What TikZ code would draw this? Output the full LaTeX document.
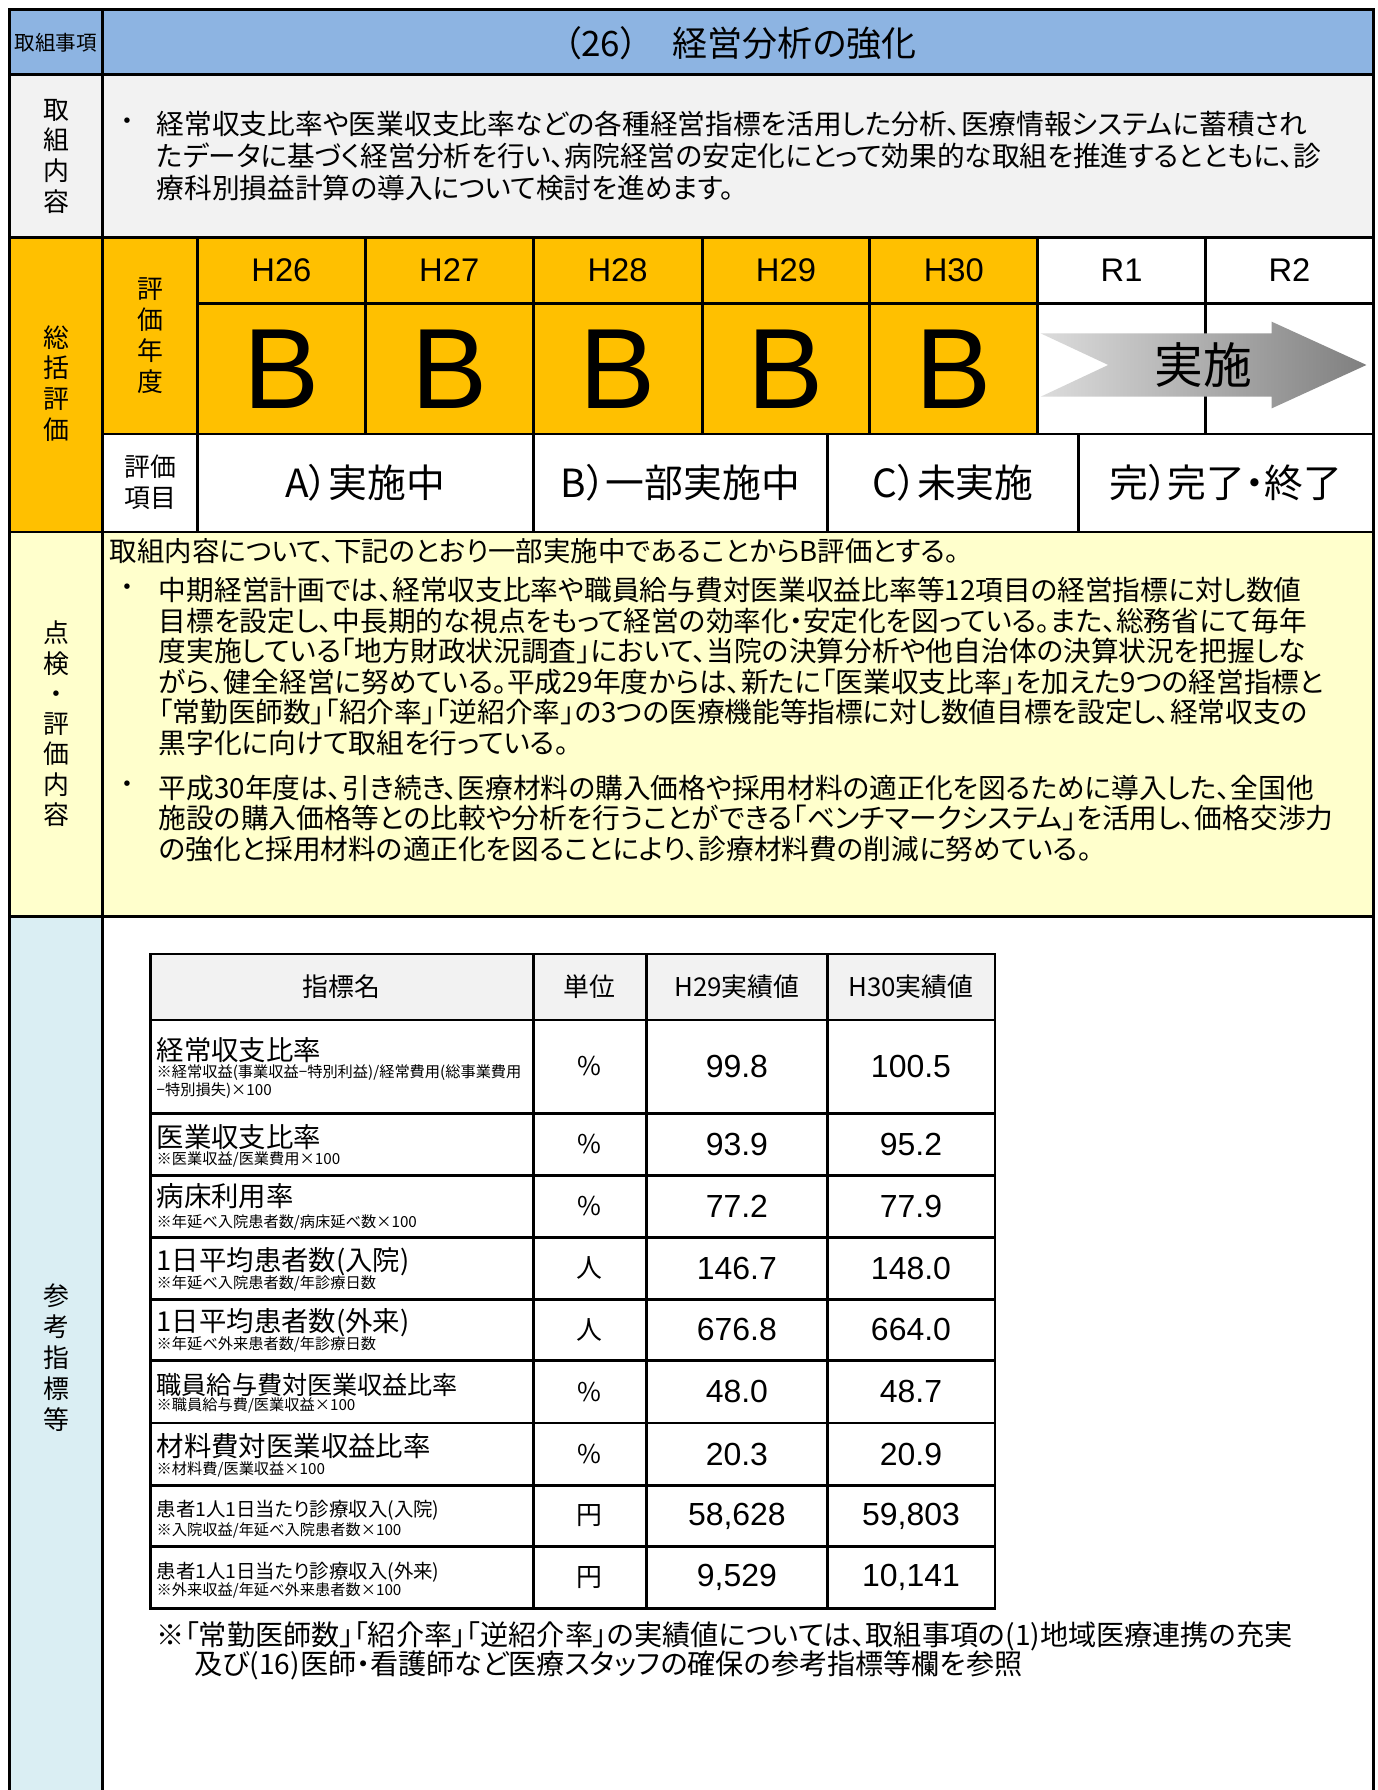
\documentclass[tikz,border=0pt]{standalone}
\usepackage{fontspec}
\setmainfont{Noto Sans CJK JP}[RawFeature=+palt]
\newfontfamily\arialfont{Liberation Sans}
\definecolor{titleBlue}{HTML}{8DB4E2}
\definecolor{paleGray}{HTML}{F2F2F2}
\definecolor{evalOrange}{HTML}{FFC000}
\definecolor{checkYellow}{HTML}{FFFFCC}
\definecolor{refBlue}{HTML}{DAEEF3}
\definecolor{arrowLight}{HTML}{DCDCDC}
\definecolor{arrowDark}{HTML}{7F7F7F}
\tikzset{
  rule/.style={line width=1.9pt, line cap=rect},
  txt/.style={inner sep=0pt, font=\fontsize{17}{20}\selectfont},
  textline/.style={txt, anchor=west, font=\fontsize{18.2}{20}\selectfont},
  vlabel/.style={inner sep=0pt, align=center, font=\fontsize{17}{20.3}\selectfont},
  yearlbl/.style={inner sep=0pt, font=\arialfont\fontsize{21.5}{24}\selectfont},
  grade/.style={inner sep=0pt, font=\arialfont\fontsize{75}{80}\selectfont},
  itemlbl/.style={inner sep=0pt, font=\fontsize{25.5}{28}\selectfont},
  num/.style={inner sep=0pt, font=\arialfont\fontsize{21}{24}\selectfont}
}
\begin{document}
\begin{tikzpicture}[x=0.75pt, y=-0.75pt]
    \useasboundingbox (0,0) rectangle (1207,1568);
    \fill[white] (0,0) rectangle (1207,1568);
    % Row backgrounds
    \fill[titleBlue] (8,8) rectangle (1203,65.5);
    \fill[paleGray] (8,65.5) rectangle (1203,208);
    \fill[evalOrange] (8,208) rectangle (909,380.2);
    \fill[evalOrange] (8,380.2) rectangle (90,466);
    \fill[checkYellow] (8,466) rectangle (1203,803);
    \fill[refBlue] (8,803) rectangle (90,1568);
    % Frame and main rules
    \draw[rule] (8,1568) -- (8,8) -- (1203,8) -- (1203,1568);
    \draw[rule] (90,8) -- (90,1568);
    \foreach \y in {65.5,208,466,803} \draw[rule] (8,\y) -- (1203,\y);
    % Evaluation grid
    \draw[rule] (173,208) -- (173,466);
    \draw[rule] (173,265.7) -- (1203,265.7);
    \draw[rule] (90,380.2) -- (1203,380.2);
    \foreach \x in {320,467,615,762,909,1056} \draw[rule] (\x,208) -- (\x,380.2);
    \foreach \x in {467,725,945} \draw[rule] (\x,380.2) -- (\x,466);
    % Title row
    \node[inner sep=0pt, font=\fontsize{13.5}{15}\selectfont] (tagHead) at (49,37.5) {取組事項};
    \node[inner sep=0pt, font=\fontsize{23}{26}\selectfont] (title) at (648.5,37.5) {（26）　経営分析の強化};
    % Left labels
    \node[vlabel] (lblNaiyo) at (49,137) {取\\組\\内\\容};
    \node[vlabel] (lblSokatsu) at (49,336) {総\\括\\評\\価};
    \node[vlabel] (lblNendo) at (131.5,294) {評\\価\\年\\度};
    \node[vlabel] (lblKomoku) at (131.5,422.3) {評価\\項目};
    \node[vlabel, font=\fontsize{17}{19.9}\selectfont] (lblTenken) at (49,634) {点\\検\\・\\評\\価\\内\\容};
    \node[vlabel] (lblSanko) at (49,1189) {参\\考\\指\\標\\等};
    % Contents text
    \node[txt] (dotNaiyo) at (112,108.6) {・};
    \foreach \ln [count=\i] in {%
        経常収支比率や医業収支比率などの各種経営指標を活用した分析、医療情報システムに蓄積され,
        たデータに基づく経営分析を行い、病院経営の安定化にとって効果的な取組を推進するとともに、診,
        療科別損益計算の導入について検討を進めます。}
        \node[textline] (naiyo\i) at (137,{108.6+27.9*(\i-1)}) {\ln};
    % Years and grades
    \foreach \yr/\cx in {H26/246.5,H27/393.5,H28/541,H29/688.5,H30/835.5,R1/982.5,R2/1129.5}
        \node[yearlbl] (yr\yr) at (\cx,236.8) {\yr};
    \foreach \cx [count=\i] in {246.5,393.5,541,688.5,835.5}
        \node[grade] (grade\i) at (\cx,323) {B};
    \shade[left color=arrowLight, right color=arrowDark] (911.6,292) -- (1114,292) -- (1114,281.8)
        -- (1197,319.7) -- (1114,357.7) -- (1114,347.5) -- (911.6,347.5) -- (970.8,319.7) -- cycle;
    \node[inner sep=0pt, font=\fontsize{32}{34}\selectfont] (jisshi) at (1054,320) {実施};
    \foreach \it/\cx [count=\i] in {A）実施中/320,B）一部実施中/596,C）未実施/835,完）完了・終了/1074}
        \node[itemlbl] (item\i) at (\cx,422.5) {\it};
    % Check text
    \node[textline, font=\fontsize{18}{20}\selectfont] (lead) at (96,483) {取組内容について、下記のとおり一部実施中であることからB評価とする。};
    \node[txt] (dotA) at (112,517) {・};
    \foreach \ln [count=\i] in {%
        中期経営計画では、経常収支比率や職員給与費対医業収益比率等12項目の経営指標に対し数値,
        目標を設定し、中長期的な視点をもって経営の効率化・安定化を図っている。また、総務省にて毎年,
        度実施している「地方財政状況調査」において、当院の決算分析や他自治体の決算状況を把握しな,
        がら、健全経営に努めている。平成29年度からは、新たに「医業収支比率」を加えた9つの経営指標と,
        「常勤医師数」「紹介率」「逆紹介率」の3つの医療機能等指標に対し数値目標を設定し、経常収支の,
        黒字化に向けて取組を行っている。}
        \node[textline] (chkA\i) at (139,{517+26.7*(\i-1)}) {\ln};
    \node[txt] (dotB) at (112,690) {・};
    \foreach \ln [count=\i] in {%
        平成30年度は、引き続き、医療材料の購入価格や採用材料の適正化を図るために導入した、全国他,
        施設の購入価格等との比較や分析を行うことができる「ベンチマークシステム」を活用し、価格交渉力,
        の強化と採用材料の適正化を図ることにより、診療材料費の削減に努めている。}
        \node[textline] (chkB\i) at (139,{690+26.7*(\i-1)}) {\ln};
    % Indicator table
    \fill[paleGray] (131.5,835.7) rectangle (871.6,893.5);
    \draw[rule] (131.5,835.7) rectangle (871.6,1409);
    \foreach \y in {893.5,975,1029.5,1084,1138,1192,1246.5,1301,1355} \draw[rule] (131.5,\y) -- (871.6,\y);
    \foreach \x in {467,566.5,724.5} \draw[rule] (\x,835.7) -- (\x,1409);
    \foreach \hd/\cx [count=\i] in {指標名/299,単位/516.7,H29実績値/645.5,H30実績値/798}
        \node[txt] (head\i) at (\cx,864.6) {\hd};
    \foreach \fs/\nm/\nt/\un/\va/\vb/\yn/\yt/\yc [count=\i] in {%
        18/経常収支比率/{※経常収益(事業収益−特別利益)/経常費用(総事業費用\\−特別損失)×100}/\%/99.8/100.5/920/947.5/934.2,
        18/医業収支比率/{※医業収益/医業費用×100}/\%/93.9/95.2/996/1016/1002.2,
        18/病床利用率/{※年延べ入院患者数/病床延べ数×100}/\%/77.2/77.9/1048/1071/1056.7,
        18/1日平均患者数(入院)/{※年延べ入院患者数/年診療日数}/人/146.7/148.0/1105/1124/1111,
        18/1日平均患者数(外来)/{※年延べ外来患者数/年診療日数}/人/676.8/664.0/1159/1178/1165,
        16.5/職員給与費対医業収益比率/{※職員給与費/医業収益×100}/\%/48.0/48.7/1213/1231/1219.2,
        18/材料費対医業収益比率/{※材料費/医業収益×100}/\%/20.3/20.9/1267/1287/1273.7,
        12.75/患者1人1日当たり診療収入(入院)/{※入院収益/年延べ入院患者数×100}/円/{58,628}/{59,803}/1323/1341/1328,
        12.75/患者1人1日当たり診療収入(外来)/{※外来収益/年延べ外来患者数×100}/円/{9,529}/{10,141}/1377/1393.5/1382}
    {
        \node[textline, font=\fontsize{\fs}{\fs}\selectfont] (name\i) at (137,\yn) {\nm};
        \node[textline, align=left, font=\fontsize{10}{11.3}\selectfont] (note\i) at (137,\yt) {\nt};
        \node[txt] (unit\i) at (516.7,\yc) {\un};
        \node[num] (valA\i) at (645.5,\yc) {\va};
        \node[num] (valB\i) at (798,\yc) {\vb};
    }
    % Remark under the table
    \node[textline, font=\fontsize{18.5}{20}\selectfont] (remark1) at (137,1433) {※「常勤医師数」「紹介率」「逆紹介率」の実績値については、取組事項の(1)地域医療連携の充実};
    \node[textline, font=\fontsize{18.5}{20}\selectfont] (remark2) at (170,1459) {及び(16)医師・看護師など医療スタッフの確保の参考指標等欄を参照};
\end{tikzpicture}
\end{document}
